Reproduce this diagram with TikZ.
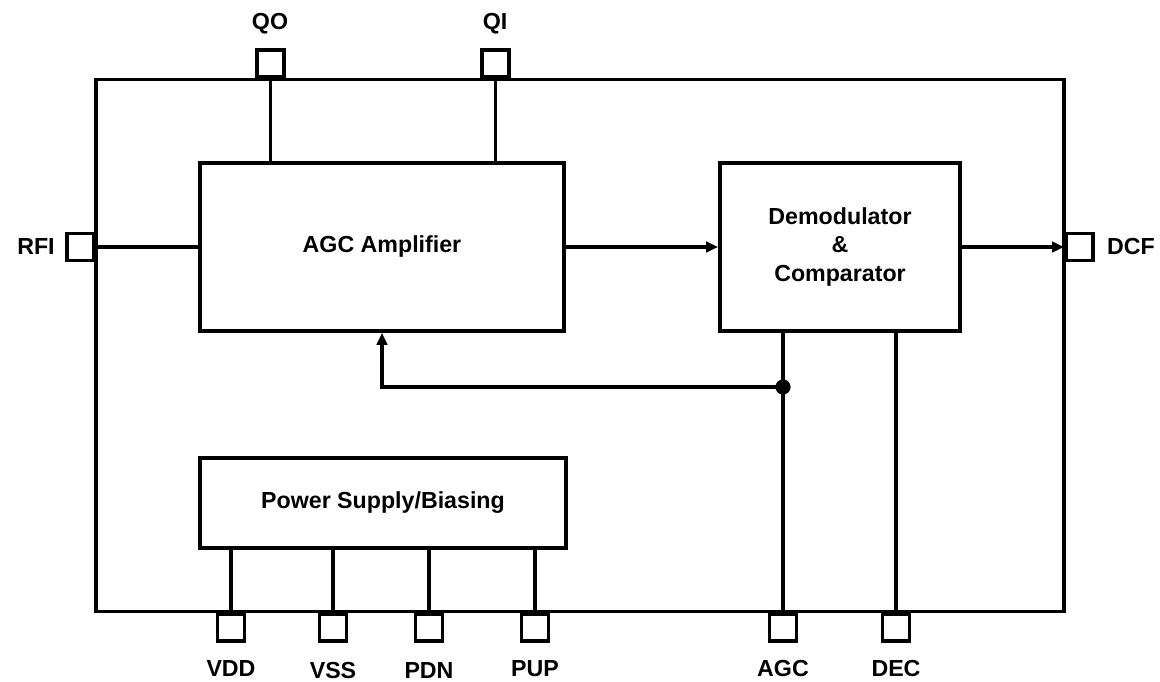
\documentclass[tikz,border=0pt]{standalone}
\usepackage{fontspec}
\setmainfont{Liberation Sans}
\usetikzlibrary{arrows.meta,positioning}

\begin{document}
\begin{tikzpicture}[
  x=0.025cm,y=-0.025cm,
  every node/.style={font=\fontsize{16.5}{20}\selectfont\bfseries},
  wire/.style={line width=2.6pt},
  sig/.style={wire,-{Triangle[length=3mm,width=2.6mm]}},
  blk/.style={draw,line width=2.6pt,fill=white,align=center,inner sep=0pt},
  pin/.style={draw,line width=2.6pt,fill=white,minimum size=0.68cm,inner sep=0pt},
  lbl/.style={inner sep=0pt},
]
\useasboundingbox (0,0) rectangle (1160,682);

%% Chip outline
\node[draw,line width=2.6pt,minimum width=24.2cm,minimum height=13.3cm,inner sep=0pt]
  (chip) at (580,345.5) {};

%% Function blocks
\node[blk,minimum width=9.1cm,minimum height=4.2cm] (amp) at (382,247) {AGC Amplifier};
\node[blk,minimum width=6.0cm,minimum height=4.2cm] (demod) at (840,247)
  {Demodulator\\\&\\Comparator};
\node[blk,minimum width=9.15cm,minimum height=2.25cm] (psu) at (383,503) {Power Supply/Biasing};

%% Pins (top)
\node[pin] (pQO) at (270.5,63.5) {};
\node[pin] (pQI) at (495.5,63.5) {};
%% Pins (sides)
\node[pin] (pRFI) at (80.5,247) {};
\node[pin] (pDCF) at (1079.5,247) {};
%% Pins (bottom)
\node[pin] (pVDD) at (231,627.5) {};
\node[pin] (pVSS) at (333,627.5) {};
\node[pin] (pPDN) at (429,627.5) {};
\node[pin] (pPUP) at (535,627.5) {};
\node[pin] (pAGC) at (783,627.5) {};
\node[pin] (pDEC) at (896,627.5) {};

%% Pin labels
\node[lbl] (lQO)  at (270,24)  {QO};
\node[lbl] (lQI)  at (495,24)  {QI};
\node[lbl] (lRFI) at (36,247)  {RFI};
\node[lbl] (lDCF) at (1131,247) {DCF};
\node[lbl] (lVDD) at (231,669) {VDD};
\node[lbl] (lVSS) at (333,670.5) {VSS};
\node[lbl] (lPDN) at (429,670.5) {PDN};
\node[lbl] (lPUP) at (535,669) {PUP};
\node[lbl] (lAGC) at (783,669) {AGC};
\node[lbl] (lDEC) at (896,669) {DEC};

%% Connections
\draw[wire] (pQO.south) -- (pQO.south |- amp.north);
\draw[wire] (pQI.south) -- (pQI.south |- amp.north);
\draw[wire] (pRFI.east) -- (amp.west);
\draw[sig] (amp.east) -- (demod.west);
\draw[sig] (demod.east) -- (pDCF.west);

\draw[wire] (pVDD.north |- psu.south) -- (pVDD.north);
\draw[wire] (pVSS.north |- psu.south) -- (pVSS.north);
\draw[wire] (pPDN.north |- psu.south) -- (pPDN.north);
\draw[wire] (pPUP.north |- psu.south) -- (pPUP.north);

\draw[wire] (pAGC.north |- demod.south) -- (pAGC.north);
\draw[wire] (pDEC.north |- demod.south) -- (pDEC.north);

%% AGC feedback
\coordinate (tap) at (783,387);
\fill (tap) circle (0.19cm);
\draw[sig] (tap) -| (amp.south);

\end{tikzpicture}
\end{document}
